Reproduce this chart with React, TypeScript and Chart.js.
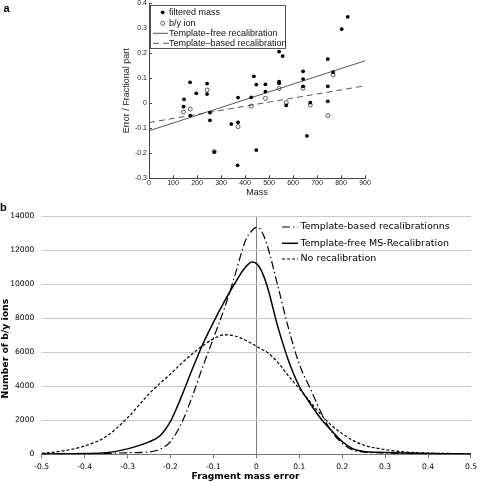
import React, { useEffect, useRef } from 'react';
import { Chart, registerables } from 'chart.js';

Chart.register(...registerables);

// ---------- Panel a data ----------
const filteredMassX = [146, 144, 171, 172, 197, 242, 242, 254, 254, 272, 343, 371, 371, 369, 426, 437, 447, 447, 485, 485, 542, 542, 542, 557, 572, 642, 642, 642, 658, 672, 745, 745, 745, 767, 803, 828];
const filteredMassY = [0.016, -0.013, 0.084, -0.049, 0.04, 0.079, 0.037, -0.037, -0.068, -0.195, -0.083, 0.023, -0.076, -0.248, 0.024, 0.108, 0.075, -0.187, 0.076, 0.047, 0.087, 0.08, 0.207, 0.189, -0.008, 0.128, 0.097, 0.068, -0.13, 0.003, 0.177, 0.068, 0.008, 0.125, 0.297, 0.346];
const byIonX = [144, 172, 242, 272, 371, 426, 485, 542, 572, 642, 672, 745, 767];
const byIonY = [-0.035, -0.023, 0.053, -0.193, -0.093, -0.011, 0.02, 0.059, 0.003, 0.06, -0.007, -0.049, 0.113];
const fitX = [0, 900];
const templateFreeFitY = [-0.11, 0.17];
const templateBasedFitY = [-0.077, 0.07];
const panelALegend = ['filtered mass', 'b/y ion', 'Template\u2013free recalibration', 'Template\u2013based recalibration'];

// ---------- Panel b data ----------
const errorX = [-0.5, -0.45, -0.4, -0.35, -0.3, -0.25, -0.225, -0.2, -0.175, -0.15, -0.125, -0.1, -0.075, -0.05, -0.025, -0.01, 0, 0.01, 0.025, 0.05, 0.075, 0.1, 0.125, 0.15, 0.175, 0.2, 0.225, 0.25, 0.3, 0.35, 0.4, 0.45, 0.5];
const templateBasedCounts = [15, 20, 30, 50, 90, 140, 280, 750, 1790, 3350, 5130, 6810, 8530, 10500, 12570, 13150, 13330, 13200, 12300, 9900, 7400, 5300, 3900, 2500, 1350, 650, 250, 130, 80, 50, 35, 25, 15];
const templateFreeCounts = [20, 30, 45, 90, 320, 730, 1080, 1940, 3360, 4950, 6450, 7750, 8950, 10050, 11000, 11300, 11220, 10880, 9900, 7500, 5500, 4000, 3000, 2100, 1400, 750, 320, 170, 110, 70, 40, 25, 15];
const noRecalCounts = [60, 200, 490, 1040, 2150, 3550, 4150, 4720, 5330, 5880, 6380, 6780, 7020, 6950, 6700, 6500, 6350, 6200, 6000, 5400, 4600, 3860, 3100, 2350, 1700, 1215, 820, 540, 275, 130, 75, 50, 30];
const panelBLegend = ['Template-based recalibrationns', 'Template-free MS-Recalibration', 'No recalibration'];

const DASH_DOT = [8, 3, 1.5, 3];
const SHORT_DASH = [3, 2];

const zip = (xs: number[], ys: number[]) => xs.map((x, i) => ({ x, y: ys[i] }));
const fmt1 = (v: number) => {
  const r = Math.round(v * 10) / 10;
  return r === 0 ? '0' : r.toFixed(1);
};

// canvas A sits 10px above the page top
const OY = 10;

const panelAOverlay = {
  id: 'panelAOverlay',
  afterDraw(chart: any) {
    const ctx = chart.ctx;
    ctx.save();
    ctx.fillStyle = '#000';
    ctx.font = 'bold 11px "Liberation Sans"';
    ctx.textBaseline = 'alphabetic';
    ctx.fillText('a', 3.5, 11.5 + OY);
    // legend box
    ctx.fillStyle = '#fff';
    ctx.fillRect(150.5, 5.5 + OY, 135, 43);
    ctx.strokeStyle = '#555';
    ctx.lineWidth = 1;
    ctx.strokeRect(150.5, 5.5 + OY, 135, 43);
    const rows = [12.3, 23.3, 33.3, 43.3].map((r) => r + OY);
    ctx.fillStyle = '#000';
    ctx.beginPath();
    ctx.arc(162.7, rows[0], 1.9, 0, Math.PI * 2);
    ctx.fill();
    ctx.strokeStyle = '#333';
    ctx.lineWidth = 0.8;
    ctx.beginPath();
    ctx.arc(162.7, rows[1], 2, 0, Math.PI * 2);
    ctx.stroke();
    ctx.strokeStyle = '#444';
    ctx.lineWidth = 0.9;
    ctx.beginPath();
    ctx.moveTo(153, rows[2]);
    ctx.lineTo(168, rows[2]);
    ctx.stroke();
    ctx.setLineDash([6, 4]);
    ctx.beginPath();
    ctx.moveTo(153, rows[3]);
    ctx.lineTo(169, rows[3]);
    ctx.stroke();
    ctx.setLineDash([]);
    ctx.fillStyle = '#111';
    ctx.font = '9px "Liberation Sans"';
    ctx.textBaseline = 'middle';
    panelALegend.forEach((t, i) => ctx.fillText(t, 169, rows[i]));
    ctx.restore();
  },
};

const panelBOverlay = {
  id: 'panelBOverlay',
  afterDraw(chart: any) {
    const ctx = chart.ctx;
    ctx.save();
    ctx.fillStyle = '#000';
    ctx.font = 'bold 11px "Liberation Sans"';
    ctx.textBaseline = 'alphabetic';
    ctx.fillText('b', 0, 11);
    ctx.font = 'bold 9.1px "DejaVu Sans"';
    ctx.textAlign = 'center';
    ctx.textBaseline = 'middle';
    ctx.fillText('Fragment mass error', 245.5, 276.7);
    ctx.save();
    ctx.translate(5.5, 148.6);
    ctx.rotate(-Math.PI / 2);
    ctx.font = 'bold 9.3px "DejaVu Sans"';
    ctx.fillText('Number of b/y ions', 0, 0);
    ctx.restore();
    const rows = [27, 43.3, 59];
    const dashes = [DASH_DOT, [], SHORT_DASH];
    const widths = [1.2, 1.5, 1.2];
    ctx.strokeStyle = '#000';
    dashes.forEach((d, i) => {
      ctx.setLineDash(d);
      ctx.lineWidth = widths[i];
      ctx.beginPath();
      ctx.moveTo(282, rows[i]);
      ctx.lineTo(298, rows[i]);
      ctx.stroke();
    });
    ctx.setLineDash([]);
    ctx.textAlign = 'left';
    ctx.font = '9.5px "DejaVu Sans"';
    panelBLegend.forEach((t, i) => ctx.fillText(t, 300.5, rows[i]));
    ctx.restore();
  },
};

function PanelA() {
  const ref = useRef<HTMLCanvasElement>(null);
  useEffect(() => {
    const chart = new Chart(ref.current!, {
      type: 'scatter',
      data: {
        datasets: [
          {
            label: panelALegend[0],
            data: zip(filteredMassX, filteredMassY),
            pointRadius: 1.9,
            pointBackgroundColor: '#000',
            pointBorderWidth: 0,
            showLine: false,
          },
          {
            label: panelALegend[1],
            data: zip(byIonX, byIonY),
            pointRadius: 2,
            pointBackgroundColor: 'rgba(255,255,255,0)',
            pointBorderColor: '#333',
            pointBorderWidth: 0.8,
            showLine: false,
          },
          {
            label: panelALegend[2],
            data: zip(fitX, templateFreeFitY),
            showLine: true,
            pointRadius: 0,
            borderColor: '#444',
            borderWidth: 0.9,
          },
          {
            label: panelALegend[3],
            data: zip(fitX, templateBasedFitY),
            showLine: true,
            pointRadius: 0,
            borderColor: '#444',
            borderWidth: 0.9,
            borderDash: [6, 4],
          },
        ],
      },
      options: {
        animation: false,
        responsive: false,
        devicePixelRatio: 1,
        layout: { padding: { left: 109, right: 116, top: 13.3, bottom: 1.7 } },
        plugins: { legend: { display: false }, tooltip: { enabled: false } },
        scales: {
          x: {
            type: 'linear',
            min: 0,
            max: 900,
            afterFit: (s: any) => { s.height = 20; },
            ticks: {
              stepSize: 100,
              maxRotation: 0,
              autoSkip: false,
              padding: 4,
              color: '#222',
              font: { family: 'Liberation Sans', size: 7 },
            },
            grid: { drawOnChartArea: false, drawTicks: true, tickLength: -3, color: '#444' },
            border: { display: true, color: '#444', width: 1 },
            title: {
              display: true,
              text: 'Mass',
              color: '#222',
              font: { family: 'Liberation Sans', size: 9 },
              padding: { top: 0, bottom: 0.6 },
            },
          },
          y: {
            type: 'linear',
            min: -0.3,
            max: 0.4,
            afterFit: (s: any) => { s.width = 40; },
            ticks: {
              stepSize: 0.1,
              padding: 5,
              color: '#222',
              font: { family: 'Liberation Sans', size: 7 },
              callback: (v: any) => fmt1(Number(v)),
            },
            grid: { drawOnChartArea: false, drawTicks: true, tickLength: -3, color: '#444' },
            border: { display: true, color: '#444', width: 1 },
            title: {
              display: true,
              text: 'Error / Fractional part',
              color: '#222',
              font: { family: 'Liberation Sans', size: 9 },
              padding: { top: 12.3, bottom: 0 },
            },
          },
        },
      },
      plugins: [panelAOverlay],
    });
    return () => chart.destroy();
  }, []);
  return (
    <canvas
      ref={ref}
      width={481}
      height={210}
      style={{ position: 'absolute', left: 0, top: -OY, width: 481, height: 210 }}
    />
  );
}

function PanelB() {
  const ref = useRef<HTMLCanvasElement>(null);
  useEffect(() => {
    const chart = new Chart(ref.current!, {
      type: 'line',
      data: {
        datasets: [
          {
            label: panelBLegend[0],
            data: zip(errorX, templateBasedCounts),
            borderColor: '#000',
            borderWidth: 1.2,
            borderDash: DASH_DOT,
            pointRadius: 0,
            cubicInterpolationMode: 'monotone',
          },
          {
            label: panelBLegend[1],
            data: zip(errorX, templateFreeCounts),
            borderColor: '#000',
            borderWidth: 1.5,
            pointRadius: 0,
            cubicInterpolationMode: 'monotone',
          },
          {
            label: panelBLegend[2],
            data: zip(errorX, noRecalCounts),
            borderColor: '#000',
            borderWidth: 1.2,
            borderDash: SHORT_DASH,
            pointRadius: 0,
            cubicInterpolationMode: 'monotone',
          },
        ],
      },
      options: {
        animation: false,
        responsive: false,
        devicePixelRatio: 1,
        layout: { padding: { left: 0, right: 7, top: 16, bottom: 0 } },
        plugins: { legend: { display: false }, tooltip: { enabled: false } },
        scales: {
          x: {
            type: 'linear',
            min: -0.5,
            max: 0.5,
            afterFit: (s: any) => { s.height = 27.7; },
            ticks: {
              stepSize: 0.1,
              maxRotation: 0,
              autoSkip: false,
              padding: 4,
              color: '#000',
              font: { family: 'DejaVu Sans', size: 7.6 },
              callback: (v: any) => fmt1(Number(v)),
            },
            grid: {
              drawTicks: true,
              tickLength: 4,
              tickColor: '#777',
              color: (c: any) => (c.tick && Math.abs(c.tick.value) < 1e-9 ? '#808080' : 'rgba(0,0,0,0)'),
              lineWidth: 1,
            },
            border: { display: true, color: '#777', width: 1 },
          },
          y: {
            type: 'linear',
            min: 0,
            max: 14000,
            afterFit: (s: any) => { s.width = 41.7; },
            ticks: {
              stepSize: 2000,
              padding: 7.4,
              color: '#000',
              font: { family: 'DejaVu Sans', size: 7.6 },
              callback: (v: any) => String(Math.round(Number(v))),
            },
            grid: { drawTicks: false, color: '#c8c8c8', lineWidth: 1 },
            border: { display: false },
          },
        },
      },
      plugins: [panelBOverlay],
    });
    return () => chart.destroy();
  }, []);
  return (
    <canvas
      ref={ref}
      width={481}
      height={282}
      style={{ position: 'absolute', left: 0, top: 200, width: 481, height: 282 }}
    />
  );
}

export default function App() {
  return (
    <div style={{ position: 'absolute', left: 0, top: 0, width: 481, height: 482, background: '#fff', overflow: 'hidden' }}>
      <PanelA />
      <PanelB />
    </div>
  );
}
